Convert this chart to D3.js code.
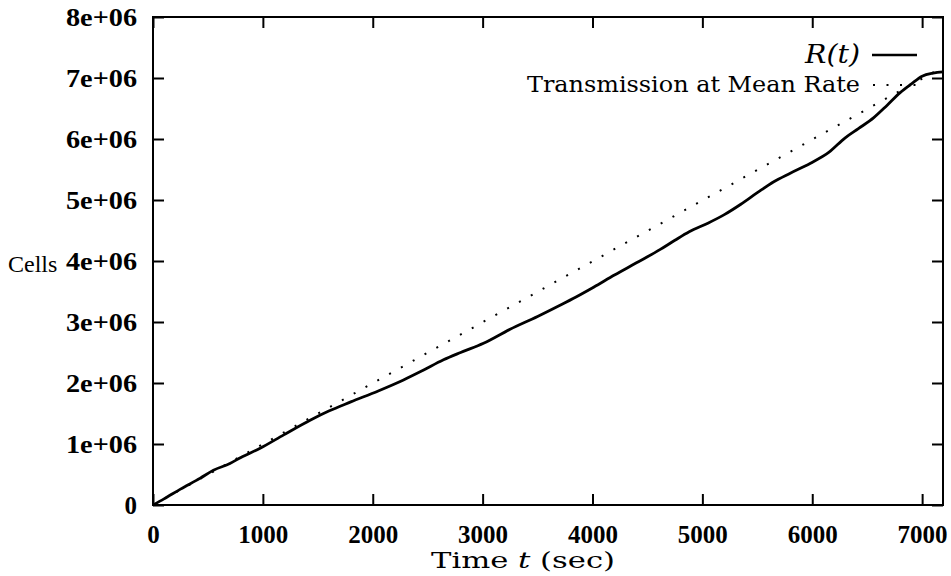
<!DOCTYPE html>
<html>
<head>
<meta charset="utf-8">
<script src="https://cdn.jsdelivr.net/npm/d3@7"></script>
<style>
  html, body { margin: 0; padding: 0; background: #fff; }
  svg { display: block; }
  .tick text { font-family: "Liberation Serif", serif; font-weight: bold; font-size: 25px; fill: #000; }
  .tick line { stroke: #000; stroke-width: 2; }
</style>
</head>
<body>
<svg id="chart" width="951" height="576"></svg>
<script>
// ---- data ----
const timeSec = [0, 100, 250, 430, 550, 700, 800, 975, 1190, 1430, 1600, 1800, 2050, 2280, 2450, 2644, 2800, 3008, 3250, 3500, 3700, 3850, 4010, 4200, 4400, 4617, 4750, 4880, 5050, 5200, 5350, 5500, 5650, 5800, 5980, 6150, 6300, 6420, 6560, 6680, 6800, 6900, 7000, 7100, 7190];
const cellsR  = [0, 100000, 260000, 440000, 570000, 680000, 780000, 930000, 1150000, 1390000, 1540000, 1690000, 1870000, 2050000, 2200000, 2380000, 2500000, 2650000, 2880000, 3090000, 3270000, 3410000, 3570000, 3770000, 3970000, 4190000, 4340000, 4480000, 4620000, 4760000, 4930000, 5120000, 5300000, 5440000, 5600000, 5780000, 6020000, 6170000, 6350000, 6550000, 6760000, 6900000, 7030000, 7080000, 7100000];
const meanRateTime  = [0, 7190];
const meanRateCells = [0, 7180000];
const xTicks = [0, 1000, 2000, 3000, 4000, 5000, 6000, 7000];
const yTicks = [0, 1e6, 2e6, 3e6, 4e6, 5e6, 6e6, 7e6, 8e6];
const yTickLabels = ["0", "1e+06", "2e+06", "3e+06", "4e+06", "5e+06", "6e+06", "7e+06", "8e+06"];
const legendLabels = ["R(t)", "Transmission at Mean Rate"];
const xTitle = ["Time ", "t", " (sec)"];
const yTitle = "Cells";

// ---- layout ----
const svg = d3.select("#chart");
const L = 153, R = 943, T = 17, B = 505;
const x = d3.scaleLinear().domain([0, 7190]).range([L, R]);
const y = d3.scaleLinear().domain([0, 8e6]).range([B, T]);
const tick = 11;

// axes (gnuplot style: inward ticks mirrored on all sides)
const gx = svg.append("g").attr("transform", `translate(0,${B})`)
  .call(d3.axisBottom(x).tickValues(xTicks).tickFormat(d3.format("d")).tickSizeInner(-tick).tickSizeOuter(0).tickPadding(38));
gx.select(".domain").remove();
gx.selectAll("text").attr("dy", "0").attr("y", 38);

const gx2 = svg.append("g").attr("transform", `translate(0,${T})`)
  .call(d3.axisTop(x).tickValues(xTicks).tickFormat("").tickSizeInner(-tick).tickSizeOuter(0));
gx2.select(".domain").remove();

const gy = svg.append("g").attr("transform", `translate(${L},0)`)
  .call(d3.axisLeft(y).tickValues(yTicks).tickFormat((d, i) => yTickLabels[i]).tickSizeInner(-tick).tickSizeOuter(0).tickPadding(16));
gy.select(".domain").remove();
gy.selectAll("text").attr("dy", "0.34em").attr("x", -16)
  .filter(d => d !== 0).attr("textLength", 71).attr("lengthAdjust", "spacingAndGlyphs");

const gy2 = svg.append("g").attr("transform", `translate(${R},0)`)
  .call(d3.axisRight(y).tickValues(yTicks).tickFormat("").tickSizeInner(-tick).tickSizeOuter(0));
gy2.select(".domain").remove();

// border
svg.append("rect").attr("x", L).attr("y", T).attr("width", R - L).attr("height", B - T)
  .attr("fill", "none").attr("stroke", "#000").attr("stroke-width", 2);

// mean-rate dotted line
const meanData = meanRateTime.map((t, i) => [t, meanRateCells[i]]);
const line = d3.line().x(d => x(d[0])).y(d => y(d[1]));
svg.append("path").datum(meanData).attr("d", line)
  .attr("fill", "none").attr("stroke", "#000").attr("stroke-width", 2)
  .attr("stroke-dasharray", "2,11.5");

// R(t) curve
const rData = timeSec.map((t, i) => [t, cellsR[i]]);
svg.append("path").datum(rData).attr("d", d3.line().x(d => x(d[0])).y(d => y(d[1])).curve(d3.curveMonotoneX))
  .attr("fill", "none").attr("stroke", "#000").attr("stroke-width", 2.8).attr("stroke-linejoin", "round");

// legend
const lg = svg.append("g");
lg.append("text").attr("x", 860).attr("y", 63).attr("text-anchor", "end")
  .attr("font-family", "DejaVu Serif").attr("font-style", "italic").attr("font-size", 26)
  .attr("textLength", 55).attr("lengthAdjust", "spacingAndGlyphs")
  .text(legendLabels[0]);
lg.append("line").attr("x1", 872).attr("x2", 917).attr("y1", 55).attr("y2", 55)
  .attr("stroke", "#000").attr("stroke-width", 2.4);
lg.append("text").attr("x", 860).attr("y", 92).attr("text-anchor", "end")
  .attr("font-family", "DejaVu Serif").attr("font-size", 23)
  .attr("textLength", 333).attr("lengthAdjust", "spacingAndGlyphs")
  .text(legendLabels[1]);
lg.append("line").attr("x1", 873).attr("x2", 917).attr("y1", 85).attr("y2", 85)
  .attr("stroke", "#000").attr("stroke-width", 2).attr("stroke-dasharray", "2,11.5");

// axis titles
const xt = svg.append("text").attr("x", 431).attr("y", 568)
  .attr("font-family", "DejaVu Serif").attr("font-size", 23)
  .attr("textLength", 184).attr("lengthAdjust", "spacingAndGlyphs");
xt.append("tspan").text(xTitle[0]);
xt.append("tspan").attr("font-style", "italic").text(xTitle[1]);
xt.append("tspan").text(xTitle[2]);

svg.append("text").attr("x", 8).attr("y", 272)
  .attr("font-family", "Liberation Serif").attr("font-size", 24)
  .text(yTitle);
</script>
</body>
</html>
